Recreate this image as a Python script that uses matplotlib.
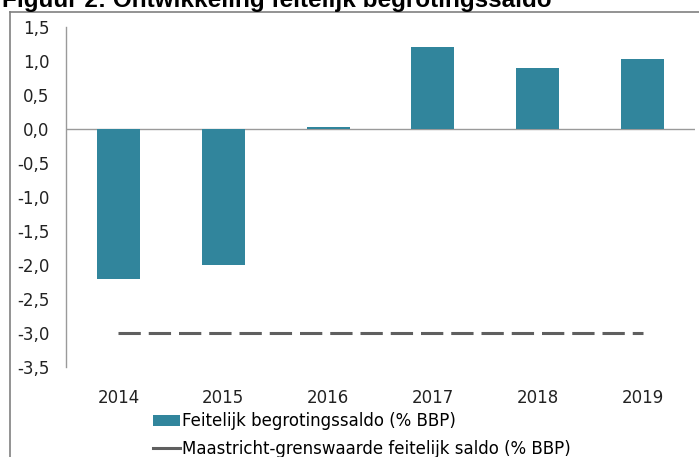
import matplotlib.pyplot as plt
import numpy as np
from matplotlib.patches import Patch
from matplotlib.lines import Line2D

years = ["2014", "2015", "2016", "2017", "2018", "2019"]
saldo = [-2.2, -2.0, 0.03, 1.2, 0.9, 1.03]
maastricht = [-3.0, -3.0, -3.0, -3.0, -3.0, -3.0]
y_ticks = [1.5, 1.0, 0.5, 0.0, -0.5, -1.0, -1.5, -2.0, -2.5, -3.0, -3.5]

bar_color = "#31859C"
line_color = "#5F5F5F"
axis_color = "#9A9A9A"

plt.rcParams['font.family'] = 'DejaVu Sans'

fig = plt.figure(figsize=(6.99, 4.57), dpi=100)
ax = fig.add_axes([66 / 699, 1 - 367 / 457, 629 / 699, 340 / 457])

x = np.arange(len(years))
ax.bar(x, saldo, width=0.41, color=bar_color, zorder=2)
ax.plot(x, maastricht, color=line_color, lw=2.2, dashes=(7.3, 2.6),
        dash_capstyle="butt", zorder=3)
ax.axhline(0, color=axis_color, lw=1, zorder=1)

ax.set_xlim(-0.5, 5.5)
ax.set_ylim(-3.5, 1.5)
ax.set_yticks(y_ticks)
ax.set_yticklabels([f"{v:.1f}".replace(".", ",") for v in y_ticks])
ax.set_xticks(x)
ax.set_xticklabels(years)
ax.tick_params(length=0, labelsize=12, colors="#222222")
ax.tick_params(axis="y", pad=12)
ax.tick_params(axis="x", pad=16)

for side in ["top", "right", "bottom"]:
    ax.spines[side].set_visible(False)
ax.spines["left"].set_color(axis_color)
ax.spines["left"].set_linewidth(1)

# frame lines of the report figure
fig.add_artist(Line2D([10 / 699, 1], [1 - 12 / 457, 1 - 12 / 457],
                      color="#808080", lw=1.2))
fig.add_artist(Line2D([10 / 699, 10 / 699], [0, 1 - 12 / 457],
                      color="#808080", lw=1.2))

# title is cut off at the top edge, as in the source image
fig.text(2 / 699, 1 - 7 / 457, "Figuur 2: Ontwikkeling feitelijk begrotingssaldo",
         fontsize=17.5, fontweight="bold", family="Liberation Sans",
         ha="left", va="baseline")

handles = [Patch(facecolor=bar_color),
           Line2D([0], [0], color=line_color, lw=2.2)]
labels = ["Feitelijk begrotingssaldo (% BBP)",
          "Maastricht-grenswaarde feitelijk saldo (% BBP)"]
fig.legend(handles, labels, loc="upper left",
           bbox_to_anchor=(145 / 699, 1 - 404 / 457), frameon=False,
           fontsize=12, handlelength=1.6, handleheight=0.6,
           handletextpad=0.15, labelspacing=0.55, borderpad=0)

fig.savefig("out.png", dpi=100)
